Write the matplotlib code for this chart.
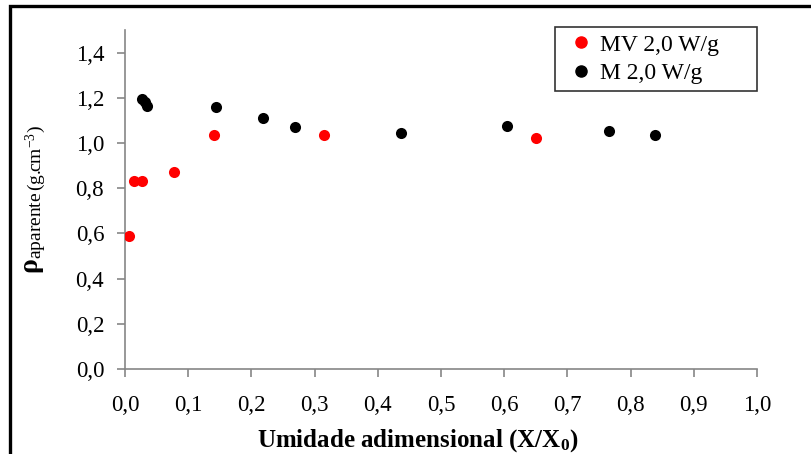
import matplotlib

matplotlib.use("Agg")

import matplotlib.pyplot as plt
from matplotlib.lines import Line2D
from matplotlib.ticker import FuncFormatter

plt.rcParams["font.family"] = ["Liberation Serif", "DejaVu Serif"]
plt.rcParams["mathtext.fontset"] = "custom"
plt.rcParams["mathtext.rm"] = "Liberation Serif"
plt.rcParams["mathtext.it"] = "Liberation Serif:italic"
plt.rcParams["mathtext.bf"] = "Liberation Serif:bold"

# MV 2,0 W/g (red)
mv_x = [0.006, 0.014, 0.027, 0.078, 0.141, 0.315, 0.650]
mv_y = [0.59, 0.83, 0.83, 0.87, 1.035, 1.035, 1.02]

# M 2,0 W/g (black)
m_x = [0.027, 0.032, 0.035, 0.144, 0.218, 0.269, 0.437, 0.604, 0.766, 0.839]
m_y = [1.195, 1.18, 1.165, 1.16, 1.11, 1.07, 1.045, 1.075, 1.053, 1.035]

series_labels = ["MV 2,0 W/g", "M 2,0 W/g"]
series_colors = ["#FF0000", "#000000"]

W, H = 812, 454
fig = plt.figure(figsize=(W / 100, H / 100), dpi=100)
fig.patch.set_facecolor("white")

# outer chart frame (runs off the right and bottom edges)
fig.add_artist(plt.Rectangle((10.5 / W, -0.1), 1.2, 1.1 - 6 / H,
                             transform=fig.transFigure, fill=False,
                             edgecolor="black", linewidth=2.4))

ax = fig.add_axes([125 / W, (H - 369) / H, (757 - 125) / W, (369 - 30) / H])

ax.scatter(mv_x, mv_y, s=64, color=series_colors[0], zorder=3, linewidths=0)
ax.scatter(m_x, m_y, s=64, color=series_colors[1], zorder=3, linewidths=0)

ax.set_xlim(0, 1.0)
ax.set_ylim(0, 1.5)
ax.set_xticks([i / 10 for i in range(11)])
ax.set_yticks([i / 5 for i in range(8)])
comma = FuncFormatter(lambda v, _: f"{v:.1f}".replace(".", ","))
ax.xaxis.set_major_formatter(comma)
ax.yaxis.set_major_formatter(comma)

for side in ("top", "right"):
    ax.spines[side].set_visible(False)
for side in ("left", "bottom"):
    ax.spines[side].set_color("#868686")
    ax.spines[side].set_linewidth(1.2)
ax.tick_params(direction="out", length=6, width=1.2, color="#868686",
               labelsize=16.5, labelcolor="black")
ax.tick_params(axis="x", pad=13)
ax.tick_params(axis="y", pad=9)

ax.set_xlabel(r"Umidade adimensional (X/X$_\mathbf{0}$)", fontsize=18,
              fontweight="bold")
ax.xaxis.set_label_coords((418 - 125) / 632, -0.172)
ax.set_ylabel(r"$\mathbf{\rho}_{\mathrm{aparente}\,\mathrm{(g}.\!\!\mathrm{cm}^{-3}\mathrm{)}}$",
              fontsize=20, labelpad=20)

handles = [Line2D([], [], marker="o", linestyle="none", markersize=8,
                  markerfacecolor=c, markeredgecolor=c) for c in series_colors]
leg = ax.legend(handles, series_labels, loc="upper left", mode="expand",
                bbox_to_anchor=((555 - 125) / 632, 0, (757 - 555) / 632, 1.009),
                frameon=True, fancybox=False, fontsize=17,
                handletextpad=0.0, handlelength=1.6, borderpad=0.3,
                labelspacing=0.3, borderaxespad=0.0)
leg.get_frame().set_edgecolor("black")
leg.get_frame().set_linewidth(1.2)

fig.savefig("out.png", dpi=100, facecolor="white")
